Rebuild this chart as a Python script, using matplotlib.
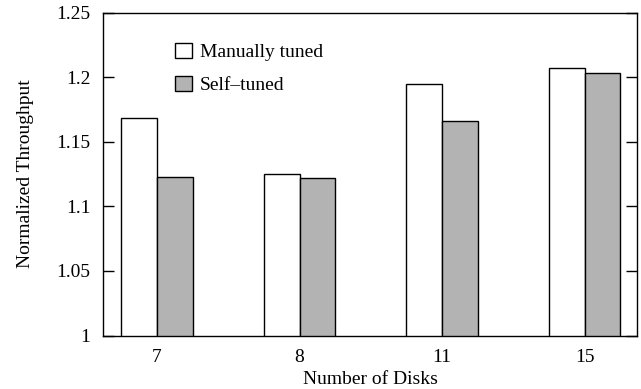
import matplotlib.pyplot as plt
import numpy as np
from matplotlib.patches import Patch

plt.rcParams['font.family'] = ['Liberation Serif', 'DejaVu Serif']

disks = ['7', '8', '11', '15']
manual = [1.168, 1.125, 1.195, 1.207]
self_tuned = [1.123, 1.122, 1.166, 1.203]

fig = plt.figure(figsize=(6.41, 3.89), dpi=100)
ax = fig.add_axes([103 / 641, 1 - 335.5 / 389, 534 / 641, 323 / 389])

x = np.arange(len(disks))
w = 0.25
ax.bar(x - w / 2, manual, w, color='white', edgecolor='black', linewidth=1.0)
ax.bar(x + w / 2, self_tuned, w, color='#b3b3b3', edgecolor='black', linewidth=1.0)

ax.set_xlim(-0.379, 3.367)
ax.set_ylim(1, 1.25)
ax.set_yticks([1, 1.05, 1.1, 1.15, 1.2, 1.25])
ax.set_yticklabels(['1', '1.05', '1.1', '1.15', '1.2', '1.25'])
ax.set_xticks(x)
ax.set_xticklabels(disks)
ax.tick_params(axis='y', direction='in', length=8, width=1, right=True, pad=9, labelsize=14)
ax.tick_params(axis='x', length=0, pad=10, labelsize=14)
for s in ax.spines.values():
    s.set_linewidth(1)

ax.set_xlabel('Number of Disks', fontsize=14, labelpad=3)
ax.set_ylabel('Normalized Throughput', fontsize=14, labelpad=16)

handles = [Patch(facecolor='white', edgecolor='black', linewidth=1.0),
           Patch(facecolor='#b3b3b3', edgecolor='black', linewidth=1.0)]
ax.legend(handles, ['Manually tuned', 'Self\u2013tuned'], loc='upper left',
          bbox_to_anchor=(0.135, 0.905), frameon=False, fontsize=14,
          handlelength=0.86, handleheight=0.8, handletextpad=0.4,
          labelspacing=0.76, borderpad=0, borderaxespad=0)

fig.savefig('out.png', dpi=100)
